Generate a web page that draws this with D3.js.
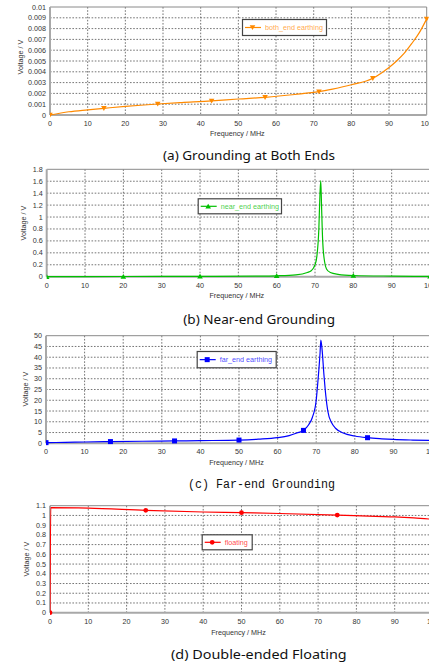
<!DOCTYPE html>
<html><head><meta charset="utf-8">
<script src="https://cdn.jsdelivr.net/npm/d3@7"></script>
<style>
html,body{margin:0;padding:0;background:#fff;}
svg{display:block;}
text{font-family:"Liberation Sans Narrow","Liberation Sans",Arial,sans-serif;}
</style></head>
<body>
<script>
// ---------- DATA ----------
const freqA = [0,5,10,14.3,20,28.6,35,42.9,50,57.1,65,71.4,75,80,85.7,88,90,92,94,96,98,100];
const voltA = [0,0.0003,0.00048,0.00062,0.0008,0.00102,0.00115,0.0013,0.00148,0.00164,0.0019,0.00216,0.0024,0.0028,0.0034,0.0039,0.0044,0.005,0.0057,0.0066,0.0076,0.0089];
const markA = [0,14.3,28.6,42.9,57.1,71.4,85.7,100];

const freqB = [0,20,40,55,60,65,68,69,70,70.5,71,71.3,71.5,71.7,72,72.5,73,74,76,80,90,100];
const voltB = [0,0.003,0.006,0.01,0.015,0.03,0.07,0.1,0.2,0.35,0.8,1.4,1.61,1.2,0.6,0.25,0.13,0.07,0.04,0.02,0.01,0.005];
const markB = [0,20,40,60,80,100];

const freqC = [0,5,10,16.7,25,33.3,40,50,55,60,63,65,66.7,68,69,70,70.5,71,71.2,71.5,72,72.5,73,74,75,77,80,83.3,87,90,95,100];
const voltC = [0.3,0.45,0.6,0.8,0.95,1.1,1.25,1.5,1.9,2.6,3.6,4.8,6.0,8.5,12,20,30,42,48,44,32,22,15,9.5,7,4.8,3.4,2.6,2.1,1.8,1.5,1.3];
const markC = [0,16.7,33.3,50,66.7,83.3,100];

const freqD = [0,0.2,10,25,40,50,60,75,85,90,95,100];
const voltD = [0,1.08,1.075,1.052,1.035,1.028,1.02,1.004,0.99,0.985,0.975,0.96];
const markD = [0,25,50,75,100];

const xTicksAll = [0,10,20,30,40,50,60,70,80,90,100];
const yTicksA = [0,0.001,0.002,0.003,0.004,0.005,0.006,0.007,0.008,0.009,0.01];
const yTicksB = [0,0.2,0.4,0.6,0.8,1,1.2,1.4,1.6,1.8];
const yTicksC = [0,5,10,15,20,25,30,35,40,45,50];
const yTicksD = [0,0.1,0.2,0.3,0.4,0.5,0.6,0.7,0.8,0.9,1,1.1];

const seriesNames = ["both_end earthing","near_end earthing","far_end earthing","floating"];
const captions = ["(a) Grounding at Both Ends","(b) Near-end Grounding","(c) Far-end Grounding","(d) Double-ended Floating"];
const xTitle = "Frequency / MHz";
const yTitle = "Voltage / V";

// ---------- LAYOUT ----------
const W = 429, H = 666;
const svg = d3.select("body").append("svg").attr("width", W).attr("height", H);

const panels = [
  {fx:freqA, vy:voltA, marks:markA, yTicks:yTicksA, yMax:0.01, color:"#ff8a00", shape:"tridown",
   xr:[50,426.7], yr:[115,7], legend:[242,19,84,16], ytx:20, yty:57, xty:136,
   cap:{x:163,y:160,len:172,font:"'Noto Sans','Open Sans',sans-serif",size:13}},
  {fx:freqB, vy:voltB, marks:markB, yTicks:yTicksB, yMax:1.8, color:"#00c000", shape:"triup",
   xr:[46.7,430], yr:[276.7,169.3], legend:[197.7,198.3,83.3,15], ytx:23, yty:223, xty:298,
   cap:{x:183.3,y:324,len:151.7,font:"'Noto Sans','Open Sans',sans-serif",size:13}},
  {fx:freqC, vy:voltC, marks:markC, yTicks:yTicksC, yMax:50, color:"#0000ff", shape:"square",
   xr:[46,432], yr:[443.3,335.7], legend:[196.7,351,79,16.3], ytx:25, yty:389, xty:464.5,
   cap:{x:188,y:488.3,len:147,font:"'Liberation Mono','DejaVu Sans Mono',monospace",size:12}},
  {fx:freqD, vy:voltD, marks:markD, yTicks:yTicksD, yMax:1.1, color:"#ff0000", shape:"circle",
   xr:[50,433], yr:[612.7,505.7], legend:[201.7,534.3,50,15], ytx:26.7, yty:559, xty:634.5,
   cap:{x:171,y:659,len:175.7,font:"'Noto Sans','Open Sans',sans-serif",size:13}}
];

function marker(g, shape, x, y, color){
  if(shape==="tridown"){
    g.append("path").attr("d",`M${x-2.8},${y-2.2}L${x+2.8},${y-2.2}L${x},${y+2.6}Z`).attr("fill",color);
  } else if(shape==="triup"){
    g.append("path").attr("d",`M${x-2.8},${y+2.2}L${x+2.8},${y+2.2}L${x},${y-2.6}Z`).attr("fill",color);
  } else if(shape==="square"){
    g.append("rect").attr("x",x-2.5).attr("y",y-2.5).attr("width",5).attr("height",5).attr("fill",color);
  } else {
    g.append("circle").attr("cx",x).attr("cy",y).attr("r",2.4).attr("fill",color);
  }
}

panels.forEach((p,i)=>{
  const x = d3.scaleLinear().domain([0,100]).range(p.xr);
  const y = d3.scaleLinear().domain([0,p.yMax]).range(p.yr);
  const g = svg.append("g");
  const left = p.xr[0], right = p.xr[1], top = p.yr[1], bottom = p.yr[0];
  const clipId = "clip"+i;
  svg.append("clipPath").attr("id",clipId).append("rect")
    .attr("x",left).attr("y",top-4).attr("width",right-left+2).attr("height",bottom-top+8);

  // grid
  const grid = g.append("g").attr("stroke","#505050").attr("stroke-width",0.8).attr("stroke-dasharray","1.6,1.6");
  xTicksAll.forEach(t=>{ if(t>0 && t<100) grid.append("line").attr("x1",x(t)).attr("x2",x(t)).attr("y1",top).attr("y2",bottom); });
  p.yTicks.forEach(t=>{ if(t>0 && t<p.yMax-1e-9) grid.append("line").attr("x1",left).attr("x2",right).attr("y1",y(t)).attr("y2",y(t)); });

  // frame
  g.append("line").attr("x1",left).attr("x2",right).attr("y1",top).attr("y2",top).attr("stroke","#8a8a8a").attr("stroke-width",1);
  g.append("line").attr("x1",right).attr("x2",right).attr("y1",top).attr("y2",bottom).attr("stroke","#8a8a8a").attr("stroke-width",1);
  g.append("line").attr("x1",left).attr("x2",right).attr("y1",bottom).attr("y2",bottom).attr("stroke","#a8a8a8").attr("stroke-width",2);
  g.append("line").attr("x1",left).attr("x2",left).attr("y1",top).attr("y2",bottom).attr("stroke","#a8a8a8").attr("stroke-width",2);

  // tick labels
  const tl = g.append("g").attr("font-size","7.2px").attr("fill","#333");
  xTicksAll.forEach(t=>{
    tl.append("text").attr("x",x(t)).attr("y",bottom+11).attr("text-anchor","middle").text(d3.format("~g")(t));
  });
  p.yTicks.forEach(t=>{
    tl.append("text").attr("x",left-4).attr("y",y(t)+2.5).attr("text-anchor","end").text(d3.format("~g")(+t.toPrecision(6)));
  });
  // axis titles
  g.append("text").attr("x",(left+Math.min(right,429))/2 - 1).attr("y",p.xty).attr("text-anchor","middle")
    .attr("font-size","7.2px").attr("fill","#333").text(xTitle);
  g.append("text").attr("transform",`translate(${p.ytx},${p.yty}) rotate(-90)`).attr("text-anchor","middle")
    .attr("dy","0.35em").attr("font-size","7.2px").attr("fill","#333").text(yTitle);

  // series line
  const line = d3.line().x((d,j)=>x(p.fx[j])).y((d,j)=>y(p.vy[j])).curve(d3.curveMonotoneX);
  const sg = g.append("g").attr("clip-path",`url(#${clipId})`);
  sg.append("path").attr("d",line(p.vy)).attr("fill","none").attr("stroke",p.color).attr("stroke-width",1.2);
  const mg = sg.append("g");
  p.marks.forEach(m=>{
    const idx = p.fx.findIndex(f=>Math.abs(f-m)<0.05);
    let v;
    if(idx>=0) v = p.vy[idx];
    else { v = d3.scaleLinear().domain(p.fx).range(p.vy)(m); }
    marker(mg,p.shape,x(m),y(v),p.color);
  });

  // legend
  const [lx,ly,lw,lh] = p.legend;
  const lg = g.append("g");
  lg.append("rect").attr("x",lx+0.5).attr("y",ly+0.5).attr("width",lw).attr("height",lh).attr("fill","#fff").attr("stroke","#444").attr("stroke-width",1.2);
  const cy = ly+lh/2+0.5;
  lg.append("line").attr("x1",lx+3).attr("x2",lx+19).attr("y1",cy).attr("y2",cy).attr("stroke",p.color).attr("stroke-width",1.2);
  marker(lg,p.shape,lx+10.5,cy,p.color);
  lg.append("text").attr("x",lx+23).attr("y",cy+2.5).attr("font-size","7.2px").attr("fill",p.color).attr("fill-opacity",0.75).text(seriesNames[i]);

  // caption
  g.append("text").attr("x",p.cap.x).attr("y",p.cap.y).attr("font-size",p.cap.size+"px")
    .style("font-family",p.cap.font).attr("fill","#111")
    .attr("textLength",p.cap.len).attr("lengthAdjust","spacingAndGlyphs").text(captions[i]);
});
</script>
</body></html>
